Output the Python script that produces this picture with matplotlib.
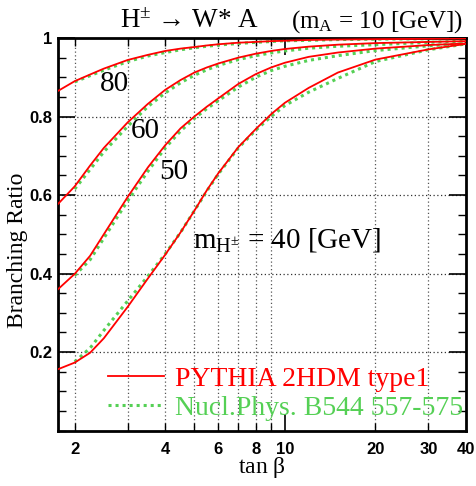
import numpy as np
import matplotlib
matplotlib.use("Agg")
import matplotlib.pyplot as plt
from matplotlib.ticker import FixedLocator, NullFormatter, MultipleLocator

plt.rcParams["mathtext.fontset"] = "custom"
plt.rcParams["mathtext.rm"] = "Liberation Serif"
plt.rcParams["mathtext.it"] = "Liberation Serif:italic"

# PYTHIA 2HDM type1 curves (red, solid)
tb_pythia = [1.5, 2, 2.25, 2.5, 3, 3.5, 4, 4.5, 5, 5.5, 6, 7, 8, 9, 10, 12, 15, 20, 30, 40]
br_pythia_40 = [0.135, 0.173, 0.198, 0.235, 0.315, 0.387, 0.448, 0.505, 0.56, 0.612, 0.655,
                0.722, 0.768, 0.806, 0.835, 0.873, 0.912, 0.945, 0.971, 0.985]
br_pythia_50 = [0.311, 0.399, 0.445, 0.50, 0.595, 0.67, 0.727, 0.77, 0.80, 0.825, 0.846,
                0.883, 0.908, 0.925, 0.937, 0.952, 0.963, 0.973, 0.982, 0.986]
br_pythia_60 = [0.521, 0.622, 0.675, 0.72, 0.785, 0.832, 0.868, 0.893, 0.912, 0.925, 0.935,
                0.95, 0.96, 0.967, 0.972, 0.978, 0.983, 0.987, 0.990, 0.992]
br_pythia_80 = [0.834, 0.89, 0.907, 0.922, 0.944, 0.957, 0.967, 0.973, 0.977, 0.981, 0.984,
                0.988, 0.990, 0.992, 0.993, 0.995, 0.996, 0.997, 0.998, 0.999]

# Nucl.Phys. B544 557-575 curves (green, dotted)
tb_np = [2, 2.25, 2.5, 3, 3.5, 4, 4.5, 5, 5.5, 6, 7, 8, 9, 10, 12, 15, 20, 30, 40]
br_np_40 = [0.175, 0.21, 0.255, 0.33, 0.393, 0.45, 0.505, 0.56, 0.61, 0.653, 0.72, 0.765,
            0.80, 0.828, 0.862, 0.897, 0.94, 0.97, 0.985]
br_np_50 = [0.395, 0.435, 0.49, 0.585, 0.66, 0.72, 0.763, 0.795, 0.82, 0.84, 0.875, 0.90,
            0.917, 0.928, 0.943, 0.955, 0.968, 0.98, 0.986]
br_np_60 = [0.615, 0.665, 0.71, 0.775, 0.825, 0.86, 0.886, 0.905, 0.919, 0.93, 0.945, 0.955,
            0.962, 0.967, 0.974, 0.979, 0.983, 0.989, 0.992]
br_np_80 = [0.888, 0.904, 0.918, 0.94, 0.954, 0.963, 0.97, 0.975, 0.979, 0.982, 0.986, 0.989,
            0.991, 0.993, 0.994, 0.996, 0.997, 0.998, 0.999]

x_ticks = [2, 4, 6, 8, 10, 20, 30, 40]
x_grid = [2, 3, 4, 5, 6, 7, 8, 9, 20, 30]
y_ticks = [0.2, 0.4, 0.6, 0.8, 1.0]
y_ticklabels = ["0.2", "0.4", "0.6", "0.8", "1"]

RED = "#ff0000"
GREEN = "#55d055"
SERIF = "Liberation Serif"

fig = plt.figure(figsize=(4.76, 4.86), dpi=100)
ax = fig.add_axes([58 / 476, 55.5 / 486, 408 / 476, 392.5 / 486])

ax.set_xscale("log")
ax.set_xlim(1.76, 40)
ax.set_ylim(0, 1)

# grid
for xv in x_grid:
    ax.axvline(xv, color="#555555", ls=(0, (1, 2)), lw=0.9, zorder=1)
for yv in y_ticks[:-1]:
    ax.axhline(yv, color="#333333", ls=(0, (1, 2)), lw=0.9, zorder=1)

first = True
for br in [br_pythia_40, br_pythia_50, br_pythia_60, br_pythia_80]:
    ax.plot(tb_pythia, br, color=RED, lw=1.3, zorder=3,
            label="PYTHIA 2HDM type1" if first else None)
    first = False
first = True
for br in [br_np_40, br_np_50, br_np_60, br_np_80]:
    ax.plot(tb_np, br, color=GREEN, lw=2.2, ls=(0, (1, 1.3)), zorder=2,
            label="Nucl.Phys. B544 557-575" if first else None)
    first = False

# ticks
ax.xaxis.set_major_locator(FixedLocator([10]))
ax.xaxis.set_minor_locator(FixedLocator([2, 3, 4, 5, 6, 7, 8, 9, 20, 30]))
ax.xaxis.set_major_formatter(NullFormatter())
ax.xaxis.set_minor_formatter(NullFormatter())
ax.yaxis.set_major_locator(FixedLocator(y_ticks))
ax.yaxis.set_minor_locator(MultipleLocator(0.05))
ax.set_yticklabels(y_ticklabels)
for lab in ax.get_yticklabels():
    lab.set_fontfamily("Liberation Sans")
    lab.set_fontweight("bold")
    lab.set_fontsize(12)
ax.tick_params(which="major", direction="in", length=12, width=1.2,
               top=True, right=True, pad=4)
ax.tick_params(which="minor", direction="in", length=6, width=1,
               top=True, right=True)
for xv in x_ticks:
    ax.text(xv, -0.03, str(xv), transform=ax.get_xaxis_transform(),
            ha="center", va="top", fontfamily="Liberation Sans",
            fontweight="bold", fontsize=12)
for sp in ax.spines.values():
    sp.set_linewidth(2)

fig.text(262 / 476, 1 - 467 / 486, r"tan $\mathrm{\beta}$", ha="center", va="center",
         fontfamily=SERIF, fontsize=17)
fig.text(18 / 476, 1 - 250 / 486, "Branching Ratio", rotation=90, ha="center",
         va="center", fontfamily=SERIF, fontsize=17)

# title
fig.text(120 / 476, 1 - 22 / 486, r"H$^{\pm}$ → W* A", ha="left", va="center",
         fontfamily=SERIF, fontsize=19.5)
fig.text(463 / 476, 1 - 22 / 486, r"(m$_\mathrm{A}$ = 10 [GeV])", ha="right",
         va="center", fontfamily=SERIF, fontsize=18)

# curve labels
lab_kw = dict(fontfamily=SERIF, fontsize=21, ha="center", va="center")
fig.text(114 / 476, 1 - 84 / 486, "80", **lab_kw)
fig.text(145 / 476, 1 - 131 / 486, "60", **lab_kw)
fig.text(174 / 476, 1 - 172 / 486, "50", **lab_kw)
fig.text(193 / 476, 1 - 240 / 486, r"m$_\mathrm{H^{\pm}}$ = 40 [GeV]",
         fontfamily=SERIF, fontsize=21, ha="left", va="center")

leg = ax.legend(loc="center left", bbox_to_anchor=(0.1225, 0.094), frameon=False,
                prop={"family": SERIF, "size": 20}, handlelength=2.0,
                handletextpad=0.4, labelspacing=0.12, borderaxespad=0.0,
                borderpad=0.0)
for txt, c in zip(leg.get_texts(), [RED, GREEN]):
    txt.set_color(c)

fig.savefig("out.png", dpi=100)
